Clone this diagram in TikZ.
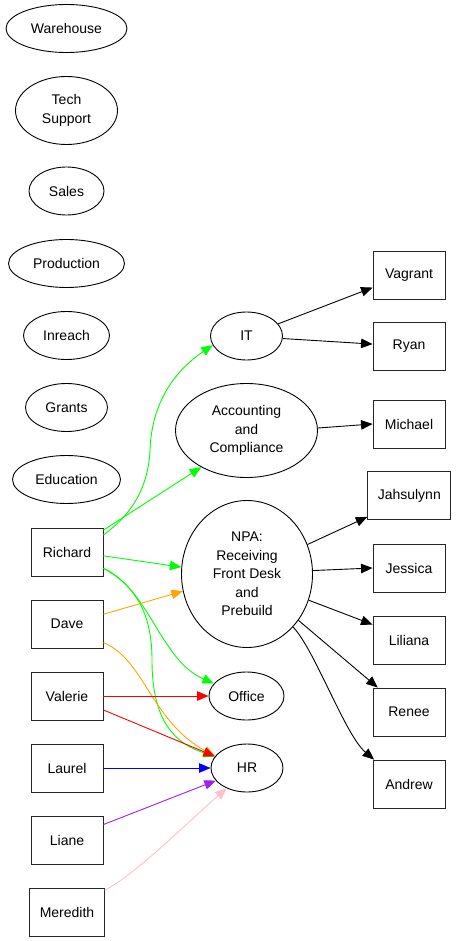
\documentclass[tikz,border=0pt]{standalone}
\usepackage{fontspec}
\setmainfont{Liberation Sans}
\usepackage{xcolor}
\usepackage{tikz}
\usetikzlibrary{shapes.geometric, arrows.meta, positioning}
\definecolor{gvgreen}{RGB}{0,255,0}
\definecolor{gvorange}{RGB}{255,165,0}
\definecolor{gvred}{RGB}{255,0,0}
\definecolor{gvblue}{RGB}{0,0,255}
\definecolor{gvpurple}{RGB}{160,32,240}
\definecolor{gvpink}{RGB}{255,192,203}
\tikzstyle{dept} = [ellipse, draw=black, line width=0.9pt, inner sep=0pt, minimum width=72pt, minimum height=48pt, align=center]
\tikzstyle{person} = [rectangle, draw=black!85, line width=0.9pt, inner xsep=10pt, minimum width=72pt, minimum height=48pt, text centered]
\tikzstyle{arrow} = [line width=0.9pt, -{Triangle[length=11.5pt,width=9.5pt]}]

\begin{document}
\begin{tikzpicture}[x=1pt, y=-1pt, every node/.style={font=\fontsize{14}{18.5}\selectfont}]
  \fill[white] (0,0) rectangle (459,941);
  \useasboundingbox (0,0) rectangle (459,941);

  % Departments without staff
  \node (warehouse) [dept, minimum width=121pt] at (66.5,28.5) {Warehouse};
  \node (techsupport) [dept, minimum width=102pt, minimum height=68pt] at (66.5,110.5) {Tech\\Support};
  \node (sales) [dept, minimum width=75pt] at (66.5,191) {Sales};
  \node (production) [dept, minimum width=116pt] at (66.5,263.5) {Production};
  \node (inreach) [dept, minimum width=86pt] at (66.5,335.5) {Inreach};
  \node (grants) [dept, minimum width=82pt] at (66.5,407.5) {Grants};
  \node (education) [dept, minimum width=108pt] at (66.5,479.5) {Education};

  % Staff (left column)
  \node (richard) [person] at (67,552) {Richard};
  \node (dave) [person, below=23.1pt of richard] {Dave};
  \node (valerie) [person, below=23.1pt of dave] {Valerie};
  \node (laurel) [person, below=23.1pt of valerie] {Laurel};
  \node (liane) [person, below=23.1pt of laurel] {Liane};
  \node (meredith) [person, below=23.1pt of liane] {Meredith};

  % Departments with staff
  \node (it) [dept] at (246.5,336) {IT};
  \node (acc) [dept, minimum width=142pt, minimum height=94pt] at (246.5,430.5) {Accounting\\and\\Compliance};
  \node (npa) [dept, minimum width=131pt, minimum height=147pt] at (247,574) {NPA:\\Receiving\\Front Desk\\and\\Prebuild};
  \node (office) [dept, minimum width=75pt] at (246.5,696) {Office};
  \node (hr) [dept] at (247,768) {HR};

  % Staff (right column)
  \node (vagrant) [person] at (409,275) {Vagrant};
  \node (ryan) [person, below=22.1pt of vagrant] {Ryan};
  \node (michael) [person] at (409,424) {Michael};
  \node (jahsulynn) [person] at (409.3,495.5) {Jahsulynn};
  \node (jessica) [person] at (409,568) {Jessica};
  \node (liliana) [person, below=23.1pt of jessica] {Liliana};
  \node (renee) [person, below=23.1pt of liliana] {Renee};
  \node (andrew) [person, below=23.1pt of renee] {Andrew};

  % Richard
  \draw[arrow, gvgreen] (richard.25) .. controls (128,517) and (148,492) .. (150,450) .. controls (152,395) and (182,366) .. (it.195);
  \draw[arrow, gvgreen] (richard.31) -- (acc.219);
  \draw[arrow, gvgreen] (richard.-6) -- (npa.174);
  \draw[arrow, gvgreen] (richard.-24) .. controls (150,590) and (160,660) .. (office.159);
  \draw[arrow, gvgreen] (richard.-24) .. controls (140,588) and (152,620) .. (152,660) .. controls (152,715) and (170,742) .. (hr.160);

  % Dave
  \draw[arrow, gvorange] (dave.15) -- (npa.195);
  \draw[arrow, gvorange] (dave.-27) .. controls (145,660) and (150,720) .. (hr.160);

  % Valerie, Laurel, Liane, Meredith
  \draw[arrow, gvred] (valerie.east) -- (office.west);
  \draw[arrow, gvred] (valerie.-21) -- (hr.160);
  \draw[arrow, gvblue] (laurel.east) -- (hr.west);
  \draw[arrow, gvpurple] (liane.23) -- (hr.202);
  \draw[arrow, gvpink] (meredith.30) .. controls (135,875) and (190,820) .. (hr.225);

  % Department heads to staff
  \draw[arrow] (it.21) -- (vagrant.199);
  \draw[arrow] (it.-4) -- (ryan.177);
  \draw[arrow] (acc.2) -- (michael.west);
  \draw[arrow] (npa.26) -- (jahsulynn.207);
  \draw[arrow] (npa.3) -- (jessica.west);
  \draw[arrow] (npa.-23) -- (liliana.157);
  \draw[arrow] (npa.-42) -- (renee.142);
  \draw[arrow] (npa.-49) .. controls (315,650) and (345,735) .. (andrew.145);
\end{tikzpicture}
\end{document}
